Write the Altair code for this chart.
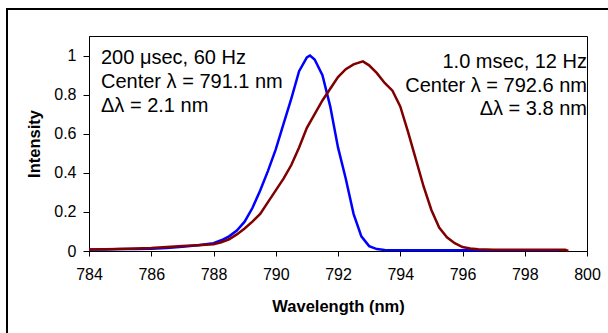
import altair as alt
import pandas as pd

# ---- data ----
blue_wl = [784.0, 784.5, 785.0, 785.5, 786.0, 786.5, 787.0, 787.5, 788.0, 788.25,
           788.5, 788.75, 789.0, 789.25, 789.5, 789.75, 790.0, 790.25, 790.5, 790.75,
           791.0, 791.1, 791.25, 791.5, 791.75, 792.0, 792.25, 792.5, 792.75, 793.0,
           793.25, 793.5, 794.0, 795.0, 796.0, 797.0, 798.0, 799.1]
blue_int = [0.008, 0.008, 0.010, 0.010, 0.012, 0.015, 0.022, 0.030, 0.040, 0.055,
            0.075, 0.105, 0.15, 0.22, 0.31, 0.41, 0.52, 0.65, 0.78, 0.92,
            0.99, 1.0, 0.98, 0.90, 0.74, 0.53, 0.37, 0.19, 0.075, 0.025,
            0.010, 0.005, 0.004, 0.004, 0.004, 0.004, 0.004, 0.004]

red_wl = [784.0, 785.0, 786.0, 787.0, 787.5, 788.0, 788.25, 788.5, 788.75, 789.0,
          789.25, 789.5, 789.75, 790.0, 790.25, 790.5, 790.75, 791.0, 791.25, 791.5,
          791.75, 792.0, 792.25, 792.5, 792.8, 793.0, 793.25, 793.5, 793.75, 794.0,
          794.25, 794.5, 794.75, 795.0, 795.25, 795.5, 795.75, 796.0, 796.25, 796.5,
          797.0, 798.0, 799.0, 799.3, 799.4]
red_int = [0.008, 0.010, 0.015, 0.025, 0.030, 0.035, 0.045, 0.06, 0.085, 0.115,
           0.15, 0.19, 0.25, 0.31, 0.37, 0.44, 0.53, 0.63, 0.70, 0.77,
           0.83, 0.89, 0.93, 0.955, 0.97, 0.95, 0.91, 0.86, 0.82, 0.74,
           0.61, 0.47, 0.33, 0.21, 0.12, 0.07, 0.04, 0.02, 0.013, 0.009,
           0.007, 0.006, 0.006, 0.006, 0.0]

x_ticks = [784, 786, 788, 790, 792, 794, 796, 798, 800]
y_ticks = [0, 0.2, 0.4, 0.6, 0.8, 1]

left_lines = ["200 \u03bcsec, 60 Hz", "Center \u03bb = 791.1 nm", "\u0394\u03bb = 2.1 nm"]
right_lines = ["1.0 msec, 12 Hz", "Center \u03bb = 792.6 nm", "\u0394\u03bb = 3.8 nm"]

FONT = "Liberation Sans"
W, H = 498, 215

blue_df = pd.DataFrame({"wl": blue_wl, "I": blue_int})
red_df = pd.DataFrame({"wl": red_wl, "I": red_int})

xs = alt.Scale(domain=[784, 800], nice=False, zero=False)
ys = alt.Scale(domain=[0, 1.1], nice=False)

xenc = alt.X("wl:Q", scale=xs, axis=alt.Axis(values=x_ticks, title="Wavelength (nm)", format="d",
                                             labelFlush=False, tickSize=5, labelPadding=10,
                                             titlePadding=16))
yenc = alt.Y("I:Q", scale=ys, axis=alt.Axis(values=y_ticks, title="Intensity", format="~g",
                                            tickSize=6, labelPadding=7, titlePadding=11))

border = alt.Chart(pd.DataFrame({"a": [0]})).mark_rect(
    fill=None, stroke="black", strokeWidth=2
).encode(x=alt.value(-82), x2=alt.value(700), y=alt.value(-27), y2=alt.value(500))

blue = alt.Chart(blue_df).mark_line(color="#0000FF", strokeWidth=2.5).encode(x=xenc, y=yenc)
red = alt.Chart(red_df).mark_line(color="#800000", strokeWidth=2.5).encode(x=xenc, y=yenc)

txt_layers = []
left_y = [22, 46, 70]
right_y = [26, 50, 73]
for s, yy in zip(left_lines, left_y):
    txt_layers.append(alt.Chart(pd.DataFrame({"t": [s]})).mark_text(
        align="left", baseline="middle", font=FONT, fontSize=20, color="black"
    ).encode(x=alt.value(12), y=alt.value(yy), text="t:N"))
for s, yy in zip(right_lines, right_y):
    txt_layers.append(alt.Chart(pd.DataFrame({"t": [s]})).mark_text(
        align="right", baseline="middle", font=FONT, fontSize=20, color="black"
    ).encode(x=alt.value(W), y=alt.value(yy), text="t:N"))

chart = alt.layer(border, blue, red, *txt_layers).properties(
    width=W, height=H,
    autosize=alt.AutoSizeParams(type="none"),
    padding={"left": 89, "top": 36, "right": 608 - 89 - W, "bottom": 333 - 36 - H},
    background="white",
).configure_view(stroke="black", strokeWidth=1).configure_axis(
    grid=False, domainColor="black", domainWidth=1, tickColor="black",
    labelFont=FONT, labelFontSize=16, labelColor="black",
    titleFont=FONT, titleFontSize=16.5, titleFontWeight="bold", titleColor="black",
)

chart.save("out.html", embed_options={"renderer": "svg", "actions": False})
